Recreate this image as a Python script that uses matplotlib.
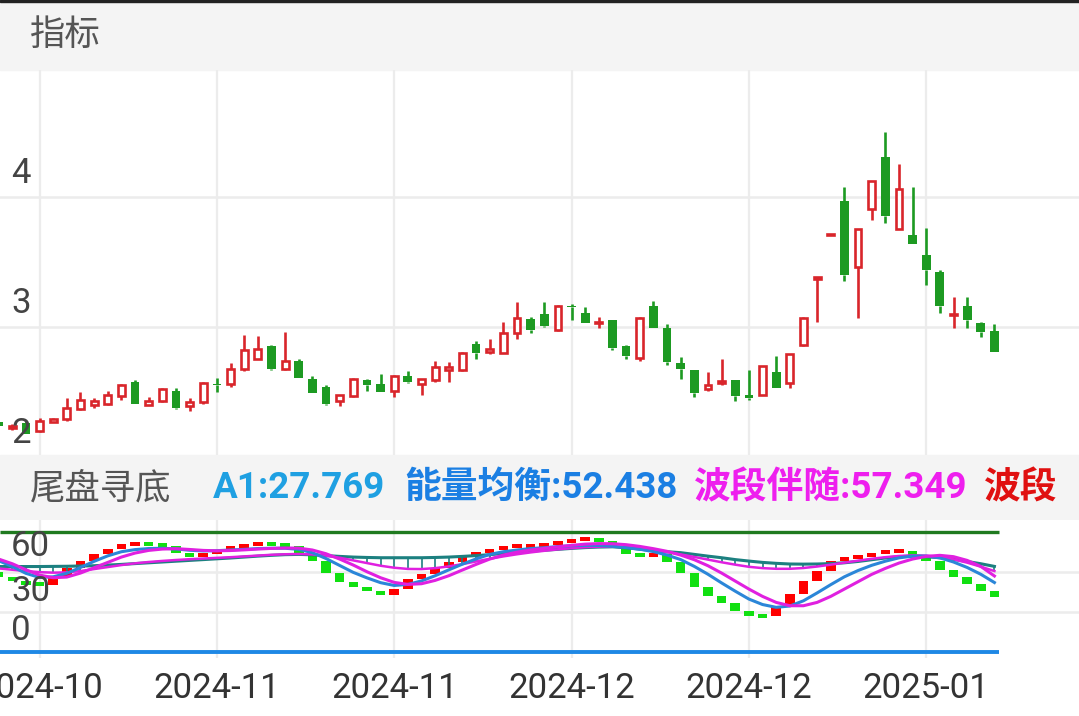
"""Recreate the 尾盘寻底 indicator screenshot (candles + oscillator panel)."""

import matplotlib

matplotlib.use("Agg")

import matplotlib.pyplot as plt
from matplotlib.patches import Rectangle
from matplotlib.transforms import Bbox

# ---- data -------------------------------------------------------------------
opens = [
  2.27, 2.22, 2.26, 2.20, 2.27, 2.29, 2.37, 2.40, 2.41, 2.47,
  2.58, 2.40, 2.43, 2.51, 2.39, 2.42, 2.56, 2.56, 2.68, 2.75,
  2.85, 2.68, 2.74, 2.60, 2.54, 2.43, 2.47, 2.59, 2.56, 2.51,
  2.62, 2.56, 2.59, 2.67, 2.67, 2.87, 2.81, 2.80, 2.95, 3.06,
  3.10, 2.98, 3.16, 3.11, 3.03, 3.05, 2.85, 2.76, 3.16, 2.99,
  2.72, 2.67, 2.52, 2.57, 2.59, 2.48, 2.48, 2.65, 2.57, 2.86,
  3.37, 3.705, 3.97, 3.46, 3.91, 4.31, 3.75, 3.71, 3.55, 3.42,
  3.09, 3.16, 3.03, 2.97,
]
highs = [
  2.28, 2.25, 2.28, 2.30, 2.30, 2.45, 2.50, 2.45, 2.51, 2.56,
  2.59, 2.46, 2.53, 2.53, 2.45, 2.58, 2.61, 2.72, 2.94, 2.93,
  2.86, 2.96, 2.75, 2.62, 2.55, 2.48, 2.61, 2.60, 2.64, 2.63,
  2.66, 2.60, 2.74, 2.73, 2.81, 2.89, 2.91, 3.04, 3.19, 3.08,
  3.19, 3.17, 3.18, 3.15, 3.08, 3.05, 2.86, 3.08, 3.20, 3.02,
  2.77, 2.67, 2.65, 2.75, 2.59, 2.67, 2.70, 2.78, 2.79, 3.08,
  3.38, 3.715, 4.08, 3.75, 4.12, 4.50, 4.25, 4.08, 3.76, 3.44,
  3.23, 3.23, 3.04, 3.02,
]
lows = [
  2.22, 2.21, 2.18, 2.19, 2.27, 2.28, 2.36, 2.38, 2.40, 2.44,
  2.41, 2.40, 2.42, 2.37, 2.35, 2.41, 2.50, 2.54, 2.66, 2.75,
  2.67, 2.67, 2.61, 2.49, 2.40, 2.39, 2.46, 2.51, 2.50, 2.46,
  2.57, 2.48, 2.58, 2.58, 2.66, 2.75, 2.79, 2.80, 2.91, 2.95,
  3.00, 2.97, 3.05, 3.03, 2.99, 2.82, 2.75, 2.74, 2.99, 2.71,
  2.60, 2.46, 2.51, 2.55, 2.43, 2.44, 2.48, 2.53, 2.53, 2.85,
  3.04, 3.705, 3.35, 3.07, 3.82, 3.80, 3.75, 3.64, 3.32, 3.11,
  2.99, 2.99, 2.92, 2.81,
]
closes = [
  2.24, 2.24, 2.18, 2.28, 2.29, 2.38, 2.44, 2.43, 2.48, 2.55,
  2.41, 2.43, 2.52, 2.38, 2.42, 2.57, 2.55, 2.68, 2.82, 2.83,
  2.68, 2.74, 2.61, 2.49, 2.41, 2.48, 2.60, 2.55, 2.50, 2.62,
  2.58, 2.60, 2.69, 2.69, 2.80, 2.80, 2.83, 2.95, 3.07, 2.98,
  3.01, 3.16, 3.15, 3.03, 3.04, 2.84, 2.78, 3.07, 2.99, 2.73,
  2.68, 2.49, 2.55, 2.58, 2.47, 2.45, 2.70, 2.53, 2.79, 3.07,
  3.38, 3.715, 3.40, 3.75, 4.12, 3.85, 4.06, 3.64, 3.44, 3.16,
  3.10, 3.05, 2.96, 2.81,
]

# oscillator panel
wave_before = 60.5
wave = [
  56.7, 53.3, 51.5, 50.5, 57.0, 63.1, 68.8, 73.5, 77.3, 81.2,
  81.8, 80.8, 80.0, 74.8, 71.4, 74.5, 76.5, 79.4, 80.7, 81.7,
  80.8, 79.6, 74.8, 68.3, 59.3, 52.8, 48.9, 46.3, 43.0, 47.5,
  54.9, 58.5, 63.1, 67.8, 72.2, 75.5, 77.3, 79.2, 79.9, 80.3,
  81.0, 82.5, 84.5, 85.0, 83.8, 79.2, 74.0, 72.5, 74.0, 67.8,
  59.3, 49.0, 42.6, 37.4, 31.0, 27.5, 27.0, 34.0, 43.8, 53.4,
  61.1, 68.9, 70.5, 72.0, 74.8, 75.6, 76.1, 72.2, 68.9, 61.9,
  56.7, 51.6, 46.4, 41.3,
]
energy = [
  68.8, 64.4, 59.3, 56.2, 56.7, 59.3, 63.7, 68.3, 72.4, 75.5,
  77.1, 77.9, 78.1, 77.6, 76.6, 76.1, 76.3, 76.8, 77.3, 77.9,
  78.1, 78.1, 77.3, 74.8, 70.4, 65.2, 60.0, 55.9, 52.3, 50.2,
  51.0, 53.6, 57.5, 61.9, 66.2, 70.1, 73.5, 75.5, 76.8, 77.9,
  78.5, 79.4, 80.0, 80.3, 80.2, 79.6, 78.6, 77.4, 75.6, 73.0,
  69.6, 64.5, 58.6, 52.1, 45.9, 40.0, 35.9, 33.8, 34.8, 38.7,
  44.6, 50.8, 56.7, 61.4, 65.3, 68.4, 70.9, 72.2, 72.2, 70.9,
  67.8, 63.7, 58.6, 52.4,
]
follow = [
  70.0, 66.5, 62.0, 58.0, 56.0, 56.5, 59.5, 63.5, 67.5, 71.5,
  74.5, 76.5, 77.5, 77.8, 77.2, 76.5, 76.2, 76.4, 76.9, 77.5,
  78.0, 78.3, 78.2, 76.8, 74.0, 70.0, 65.5, 60.5, 56.0, 52.5,
  51.0, 51.5, 54.0, 57.5, 61.8, 66.0, 70.0, 73.0, 75.2, 76.8,
  78.0, 79.2, 80.3, 81.2, 81.6, 81.5, 80.8, 79.5, 77.8, 75.8,
  73.0, 69.5, 65.0, 59.5, 53.5, 47.5, 42.0, 37.5, 35.0, 35.0,
  37.5, 42.0, 47.5, 53.0, 58.5, 63.0, 67.0, 70.0, 72.0, 72.8,
  71.8, 69.0, 64.5, 57.3,
]
trend = [
  64.4, 64.4, 64.4, 64.4, 64.5, 64.6, 64.8, 65.0, 65.5, 66.0,
  66.6, 67.2, 67.8, 68.4, 69.0, 69.6, 70.2, 70.8, 71.5, 72.2,
  72.8, 73.3, 73.5, 73.2, 72.6, 72.0, 71.5, 71.2, 71.0, 71.0,
  71.0, 71.0, 71.2, 71.5, 72.0, 72.6, 73.3, 74.2, 75.2, 76.0,
  76.6, 77.3, 78.0, 78.6, 79.0, 79.2, 78.5, 77.4, 76.3, 75.5,
  74.8, 73.5, 72.2, 71.0, 69.6, 68.5, 67.5, 66.8, 66.3, 66.2,
  66.3, 66.6, 67.2, 68.2, 69.5, 70.8, 71.8, 72.2, 71.8, 71.0,
  69.8, 68.2, 66.5, 64.5,
]
trend_follow = [
  63.0, 62.0, 61.0, 60.2, 59.8, 60.0, 61.0, 62.5, 64.0, 65.5,
  66.8, 67.8, 68.6, 69.3, 69.9, 70.4, 70.9, 71.4, 72.0, 72.6,
  73.2, 73.6, 73.8, 73.5, 72.5, 71.0, 69.0, 67.0, 65.0, 63.5,
  62.6, 62.5, 63.2, 64.5, 66.2, 68.2, 70.2, 72.0, 73.6, 75.0,
  76.2, 77.3, 78.2, 78.9, 79.3, 79.4, 79.0, 78.0, 76.8, 75.2,
  73.5, 71.6, 69.6, 67.6, 65.8, 64.2, 63.2, 62.7, 62.7, 63.3,
  64.4, 65.8, 67.3, 68.8, 70.2, 71.4, 72.3, 72.8, 72.6, 71.6,
  69.8, 67.3, 64.3, 61.0,
]

grid_days = [3, 16, 29, 42, 55, 68]
date_labels = ["2024-10", "2024-11", "2024-11", "2024-12", "2024-12", "2025-01"]
price_ticks = [4, 3, 2]
osc_ticks = [60, 30, 0]
legend_items = [
  ("A1:27.769", "#1fa0e2"),
  ("能量均衡:52.438", "#1b7fe3"),
  ("波段伴随:57.349", "#ee1fee"),
  ("波段", "#e01010"),
]

# ---- styling ---------------------------------------------------------------
W, H = 1079, 716
RED = "#d9252b"
GREEN = "#1d9a22"
BAND = "#f4f4f4"
GRID = "#ececec"
CJK = ["Noto Sans CJK SC", "DejaVu Sans"]
NUM = ["Roboto", "Noto Sans CJK SC", "DejaVu Sans"]


def px_axes(fig, top, bottom):
  return fig.add_axes([0, 1 - bottom / H, 1, (bottom - top) / H])


def main() -> None:
  fig = plt.figure(figsize=(W / 100, H / 100), dpi=100)
  fig.patch.set_facecolor("white")
  for top, bottom in [(0, 70), (455, 520)]:
    fig.add_artist(Rectangle((0, 1 - bottom / H), 1, (bottom - top) / H,
                             transform=fig.transFigure, color=BAND, zorder=0))
  fig.add_artist(Rectangle((0, 1 - 2 / H), 1, 2 / H, transform=fig.transFigure,
                           color="#222222", zorder=1))

  fig.text(30 / W, 1 - 35 / H, "指标", family=CJK, fontsize=25.5,
           color="#555555", va="center", ha="left")
  fig.text(30 / W, 1 - 488 / H, "尾盘寻底", family=CJK, fontsize=25.5,
           color="#555555", va="center", ha="left")
  for (label, color), x in zip(legend_items, [213, 404, 694, 984]):
    t = fig.text(x / W, 1 - 488 / H, label, family=NUM, fontsize=26.5,
                 weight="bold", color=color, va="center", ha="left")
    t.set_clip_box(Bbox([[0, 0], [1057, H]]))
    t.set_clip_on(True)

  xs = list(range(len(opens)))

  # ---- price panel ----
  ax = px_axes(fig, 70, 455)
  ax.set_facecolor("white")
  ax.set_xlim(0.1, 79.2)
  ax.set_ylim(2.015, 4.977)
  for g in grid_days:
    ax.axvline(g, color=GRID, lw=1.6, zorder=0)
  for p in price_ticks:
    ax.axhline(p, color=GRID, lw=1.8, zorder=0)
    ax.annotate(str(p), xy=(0, p), xycoords=("axes fraction", "data"),
                xytext=(11, 14), textcoords="offset pixels", fontsize=25,
                family=NUM, color="#444444", va="baseline", ha="left",
                annotation_clip=False, zorder=5)

  for x, o, h, l, c in zip(xs, opens, highs, lows, closes):
    up = c >= o
    color = RED if up else GREEN
    lo_body, hi_body = min(o, c), max(o, c)
    body = max(hi_body - lo_body, 0.012)
    ax.vlines(x, hi_body, h, color=color, lw=1.9, zorder=2)
    ax.vlines(x, l, lo_body, color=color, lw=1.9, zorder=2)
    if up:
      ax.bar(x, body, bottom=lo_body, width=0.5, facecolor="white",
             edgecolor=color, linewidth=1.9, zorder=3)
    else:
      ax.bar(x, body, bottom=lo_body, width=0.64, color=color,
             linewidth=0, zorder=3)
  ax.axis("off")

  # ---- oscillator panel ----
  ax2 = px_axes(fig, 520, 658)
  ax2.set_xlim(0.1, 79.2)
  ax2.set_ylim(-4.2, 99.3)
  for g in grid_days:
    ax2.axvline(g, color=GRID, lw=1.6, zorder=0)
  for v in osc_ticks[:2]:
    ax2.axhline(v, color=GRID, lw=1.8, zorder=0)
  for v, off in zip(osc_ticks, [16, 11, 12]):
    ax2.annotate(str(v), xy=(0, v), xycoords=("axes fraction", "data"),
                 xytext=(11, off), textcoords="offset pixels", fontsize=25,
                 family=NUM, color="#444444", va="baseline", ha="left",
                 zorder=5)
  last = xs[-1] + 0.3
  ax2.hlines(90, 0.1, last, color="#1f7a1f", lw=2.4, zorder=4)
  ax2.hlines(0, 0.1, last, color="#1e88e5", lw=2.8, zorder=4)

  prev = [wave_before] + wave[:-1]
  for x, a, b in zip(xs, prev, wave):
    up = b >= a
    lo, hi = min(a, b), max(a, b)
    if hi - lo < 3.0:
      mid = (a + b) / 2
      lo, hi = mid - 1.5, mid + 1.5
    ax2.bar(x, hi - lo, bottom=lo, width=0.7,
            color="#ff0000" if up else "#11e011", linewidth=0, zorder=2)

  for x, t, f in zip(xs, trend, trend_follow):
    if t > f:
      ax2.vlines(x, f, t, color="#1c8080", lw=1.2, zorder=3)
  ax2.plot(xs, trend, color="#1c8080", lw=2.2, zorder=3)
  ax2.plot(xs, trend_follow, color="#e020e0", lw=1.8, zorder=3)
  ax2.plot(xs, energy, color="#2b86d8", lw=2.2, zorder=4)
  ax2.plot(xs, follow, color="#e020e0", lw=2.2, zorder=4)

  ax2.set_xticks(grid_days)
  ax2.set_xticklabels(date_labels, family=NUM, fontsize=25, color="#333333")
  ax2.tick_params(axis="x", length=0, pad=10)
  ax2.tick_params(axis="y", left=False, labelleft=False)
  for s in ax2.spines.values():
    s.set_visible(False)

  fig.savefig("out.png", dpi=100, facecolor="white")


if __name__ == "__main__":
  main()
